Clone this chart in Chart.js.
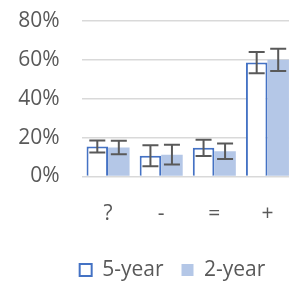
<!DOCTYPE html>
<html>
<head>
<meta charset="utf-8">
<script src="https://cdn.jsdelivr.net/npm/chart.js@4"></script>
<style>
  html, body { margin: 0; padding: 0; background: #fff; overflow: hidden; }
  #wrap { position: absolute; left: 0; top: 0; width: 345px; height: 282px; }
</style>
</head>
<body>
<div id="wrap"><canvas id="chart" width="345" height="282"></canvas></div>
<script>
// categories and values (percent)
const categories = ['?', '-', '=', '+'];
const fiveYear = [15.4, 10.6, 14.7, 58.6];
const fiveYearErr = [3.1, 5.4, 4.2, 5.5];
const twoYear = [14.9, 11.2, 13.0, 60.0];
const twoYearErr = [3.5, 5.1, 4.0, 5.7];
const yTicks = [0, 20, 40, 60, 80];

const textColor = '#595959';

// draw error bars on top of each bar
const errorBars = {
    id: 'errorBars',
    afterDatasetsDraw(chart) {
        const ctx = chart.ctx;
        const yScale = chart.scales.y;
        ctx.save();
        ctx.strokeStyle = '#595959';
        ctx.lineWidth = 2;
        chart.data.datasets.forEach((ds, i) => {
            const meta = chart.getDatasetMeta(i);
            meta.data.forEach((bar, j) => {
                const v = ds.data[j];
                const e = ds.errors[j];
                const top = yScale.getPixelForValue(v + e);
                const bot = yScale.getPixelForValue(v - e);
                const x = bar.x;
                ctx.beginPath();
                ctx.moveTo(x, top); ctx.lineTo(x, bot);
                ctx.moveTo(x - 8, top); ctx.lineTo(x + 8, top);
                ctx.moveTo(x - 8, bot); ctx.lineTo(x + 8, bot);
                ctx.stroke();
            });
        });
        ctx.restore();
    }
};

Chart.defaults.font.family = '"Open Sans", sans-serif';
Chart.defaults.font.size = 21;
Chart.defaults.color = textColor;

new Chart(document.getElementById('chart').getContext('2d'), {
    type: 'bar',
    data: {
        labels: categories,
        datasets: [{
            label: '5-year',
            data: fiveYear,
            errors: fiveYearErr,
            backgroundColor: '#ffffff',
            borderColor: '#4472c4',
            borderWidth: 2
        }, {
            label: '2-year',
            data: twoYear,
            errors: twoYearErr,
            backgroundColor: '#b4c7e7',
            borderColor: '#b4c7e7',
            borderWidth: 0
        }]
    },
    options: {
        responsive: false,
        animation: false,
        layout: { padding: { left: 0, right: 0, top: 21, bottom: -8.5 } },
        datasets: { bar: { categoryPercentage: 0.81, barPercentage: 1.0 } },
        scales: {
            x: {
                grid: { display: false, drawTicks: false },
                border: { display: false },
                ticks: { padding: 25 },
                afterFit: (s) => { s.height = 65.1; }
            },
            y: {
                min: 0,
                max: 80,
                afterBuildTicks: (s) => { s.ticks = yTicks.map(v => ({ value: v })); },
                grid: { color: '#d9d9d9', lineWidth: 1.5, drawTicks: false },
                border: { display: false },
                ticks: { padding: 22, callback: v => v + '%' },
                afterFit: (s) => { s.width = 81.5; s.paddingTop = 0; s.paddingBottom = 0; }
            },
            // empty spacer on the right (the plot runs past the picture edge)
            yRight: {
                position: 'right',
                grid: { display: false, drawTicks: false },
                border: { display: false },
                ticks: { display: false },
                afterFit: (s) => { s.width = 51; s.paddingTop = 0; s.paddingBottom = 0; }
            }
        },
        plugins: {
            legend: {
                position: 'bottom',
                labels: { boxWidth: 12, boxHeight: 12, padding: 18, color: textColor }
            },
            tooltip: { enabled: false }
        }
    },
    plugins: [errorBars]
});
</script>
</body>
</html>
